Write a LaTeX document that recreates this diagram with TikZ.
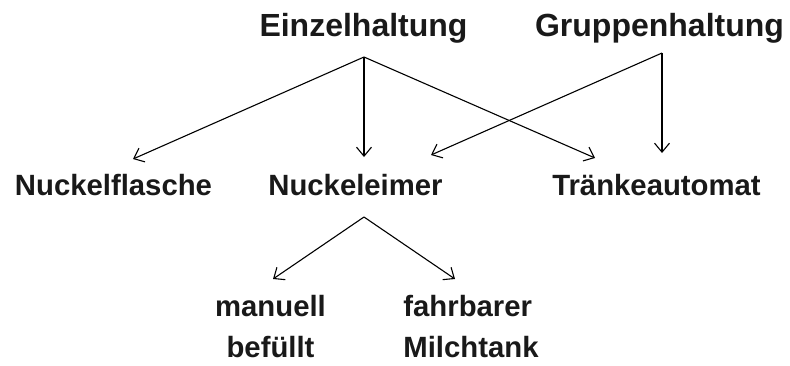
\documentclass[tikz,border=0pt]{standalone}
\usepackage{fontspec}
\setmainfont{Liberation Sans}
\usetikzlibrary{arrows.meta}
\tikzset{
  term/.style={font=\fontsize{29.3}{41}\selectfont\bfseries, anchor=base,
    inner sep=0pt, text=black!90},
  haltung/.style={term, font=\fontsize{32}{38}\selectfont\bfseries},
  link/.style={-{Straight Barb[length=9pt,width=15pt]}, line width=1.1pt},
}
\begin{document}
\begin{tikzpicture}[x=1pt,y=-1pt]
\useasboundingbox (0,0) rectangle (790,365);

\node[haltung] (einzel) at (363.5,36) {Einzelhaltung};
\node[haltung] (gruppe) at (659.5,36) {Gruppenhaltung};
\node[term] (flasche) at (113.5,195) {Nuckelflasche};
\node[term] (eimer) at (355.5,195) {Nuckeleimer};
\node[term] (automat) at (656.5,195) {Tränkeautomat};
\node[term, align=center] (manuell) at (270.5,357) {manuell\\befüllt};
\node[term, align=left] (fahrbar) at (471,357) {fahrbarer\\Milchtank};

\coordinate (einzel-fuss) at (364,57);
\coordinate (gruppe-fuss) at (662,53);
\coordinate (eimer-fuss) at (364,217);
\coordinate (flasche-kopf) at (133,159);
\coordinate (eimer-kopf) at (364,157);
\coordinate (eimer-kopf2) at (431,155);
\coordinate (automat-kopf) at (595,158);
\coordinate (automat-kopf2) at (662,153);
\coordinate (manuell-kopf) at (273,279);
\coordinate (fahrbar-kopf) at (455,279);

\draw[link] (einzel-fuss) -- (flasche-kopf);
\draw[link] (einzel-fuss) -- (eimer-kopf);
\draw[link] (einzel-fuss) -- (automat-kopf);
\draw[link] (gruppe-fuss) -- (eimer-kopf2);
\draw[link] (gruppe-fuss) -- (automat-kopf2);
\draw[link] (eimer-fuss) -- (manuell-kopf);
\draw[link] (eimer-fuss) -- (fahrbar-kopf);
\end{tikzpicture}
\end{document}
